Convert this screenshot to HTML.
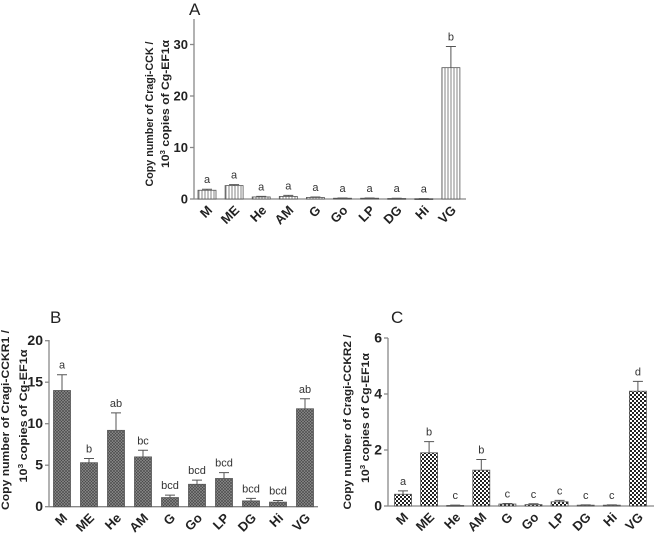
<!DOCTYPE html>
<html><head><meta charset="utf-8">
<style>
html,body{margin:0;padding:0;background:#fff;}
svg{display:block;font-family:"Liberation Sans",Arial,sans-serif;}
</style></head>
<body>
<svg id="fig" width="659" height="537" viewBox="0 0 659 537">
<defs>
<pattern id="pStripe" width="3" height="4" patternUnits="userSpaceOnUse"><rect width="3" height="4" fill="#fff"/><line x1="1" y1="0" x2="1" y2="4" stroke="#666" stroke-width="0.8"/></pattern>
<pattern id="pHatch" width="3" height="3" patternUnits="userSpaceOnUse"><rect width="3" height="3" fill="#8a8a8a"/><path d="M0,3 L3,0 M0,0 L3,3" stroke="#444" stroke-width="0.6"/></pattern>
<pattern id="pCheck" width="4" height="4" patternUnits="userSpaceOnUse"><rect width="4" height="4" fill="#fff"/><rect width="2" height="2" fill="#222"/><rect x="2" y="2" width="2" height="2" fill="#222"/></pattern>
</defs>
</svg>
<script>
const categories = ["M","ME","He","AM","G","Go","LP","DG","Hi","VG"];
const valuesA = [1.7,2.6,0.4,0.5,0.3,0.15,0.15,0.1,0.05,25.5];
const errorsA = [0.2,0.2,0.1,0.2,0.1,0.05,0.05,0.05,0.03,4.1];
const lettersA = ["a","a","a","a","a","a","a","a","a","b"];
const ticksA = [0,10,20,30];
const valuesB = [14.0,5.3,9.2,6.0,1.1,2.7,3.4,0.7,0.55,11.8];
const errorsB = [1.9,0.5,2.1,0.8,0.3,0.5,0.7,0.3,0.2,1.2];
const lettersB = ["a","b","ab","bc","bcd","bcd","bcd","bcd","bcd","ab"];
const ticksB = [0,5,10,15,20];
const valuesC = [0.42,1.9,0.02,1.28,0.07,0.05,0.15,0.03,0.03,4.1];
const errorsC = [0.12,0.4,0.01,0.38,0.02,0.03,0.05,0.01,0.01,0.35];
const lettersC = ["a","b","c","b","c","c","c","c","c","d"];
const ticksC = [0,2,4,6];

const NS="http://www.w3.org/2000/svg";
const svg=document.getElementById('fig');
function mk(tag,attrs,parent,text){const e=document.createElementNS(NS,tag);for(const k in attrs)e.setAttribute(k,attrs[k]);if(text!==undefined)e.textContent=text;(parent||svg).appendChild(e);return e;}

function panel(o){
  const g=mk('g',{});
  
  
  const y=v=>o.y0-(v/o.vmax)*(o.y0-o.yTop);
  const x=i=>o.x1st+i*o.step;
  const lbl=mk('text',{x:o.labX,y:o.labY,'font-size':17,fill:'#222'},g,o.label);
  
  
  const tg=mk('g',{transform:`translate(${o.titleX},${o.titleY}) rotate(-90)`},g);
  
  
  mk('text',{x:0,y:0,'font-size':o.tfs,'font-weight':'bold','text-anchor':'middle',fill:'#222',textLength:o.tl1,lengthAdjust:'spacingAndGlyphs'},tg,o.title1);
  const t2=mk('text',{x:o.t2off,y:o.tdy,'font-size':o.tfs,'font-weight':'bold','text-anchor':'middle',fill:'#222',textLength:o.tl2,lengthAdjust:'spacingAndGlyphs'},tg);
  mk('tspan',{},t2,'10');
  mk('tspan',{dy:-4,'font-size':o.tfs*0.65},t2,'3');
  mk('tspan',{dy:4},t2,' copies of Cg-EF1\u03b1');
  const ya=mk('line',{x1:o.ax,y1:o.axTop,x2:o.ax,y2:o.y0,stroke:'#888','stroke-width':1.3},g);
  
  
  const xa=mk('line',{x1:o.ax,y1:o.y0,x2:o.axEnd,y2:o.y0,stroke:'#888','stroke-width':1.3},g);
  
  
  o.ticks.forEach(tv=>{
    mk('line',{x1:o.ax-4,y1:y(tv),x2:o.ax,y2:y(tv),stroke:'#888','stroke-width':1.3},g);
    const tl=mk('text',{x:o.ax-6,y:y(tv)+4.5,'font-size':o.kfs,'font-weight':'bold','text-anchor':'end',fill:'#222'},g,String(tv));
    
    
  });
  categories.forEach((c,i)=>{
    const cx=x(i),top=y(o.vals[i]);
    const b=mk('rect',{x:cx-o.bw/2,y:top,width:o.bw,height:Math.max(o.y0-top,0.8),fill:o.fill,stroke:'#555','stroke-width':0.8},g);
    
    
    const et=y(o.vals[i]+o.errs[i]);
    const e=mk('path',{d:`M${cx},${top} L${cx},${et} M${cx-5},${et} L${cx+5},${et}`,stroke:'#555','stroke-width':1,fill:'none'},g);
    
    
    const l=mk('text',{x:cx,y:et-6,'font-size':11,'text-anchor':'middle',fill:'#333'},g,o.lets[i]);
    
    
    const xl=mk('text',{transform:`translate(${cx+6},${o.y0+12}) rotate(-45)`,'font-size':13,'font-weight':'bold','text-anchor':'end',fill:'#222'},g,c);
    
    
  });
}
panel({name:'panel-a',label:'A',labX:189,labY:15,title1:'Copy number of Cragi-CCK /',titleX:153,titleY:114,tfs:11,tdy:16,tl1:145,tl2:128,t2off:10,kfs:13,
  ax:194,axTop:19,axEnd:466,y0:199,yTop:44.5,vmax:30,ticks:ticksA,x1st:207,step:27.1,bw:18,
  vals:valuesA,errs:errorsA,lets:lettersA,fill:'url(#pStripe)'});
panel({name:'panel-b',label:'B',labX:50,labY:323,title1:'Copy number of Cragi-CCKR1 /',titleX:9,titleY:420,tfs:11,tdy:18,tl1:180,tl2:133,t2off:4,kfs:14,
  ax:49,axTop:340,axEnd:318,y0:506.7,yTop:340.7,vmax:20,ticks:ticksB,x1st:62,step:27,bw:17,
  vals:valuesB,errs:errorsB,lets:lettersB,fill:'url(#pHatch)'});
panel({name:'panel-c',label:'C',labX:391,labY:323,title1:'Copy number of Cragi-CCKR2 /',titleX:351,titleY:422,tfs:11,tdy:18,tl1:175,tl2:130,t2off:4,kfs:14,
  ax:388,axTop:338,axEnd:654,y0:506,yTop:338,vmax:6,ticks:ticksC,x1st:403,step:26.1,bw:17,
  vals:valuesC,errs:errorsC,lets:lettersC,fill:'url(#pCheck)'});
</script>
</body></html>
